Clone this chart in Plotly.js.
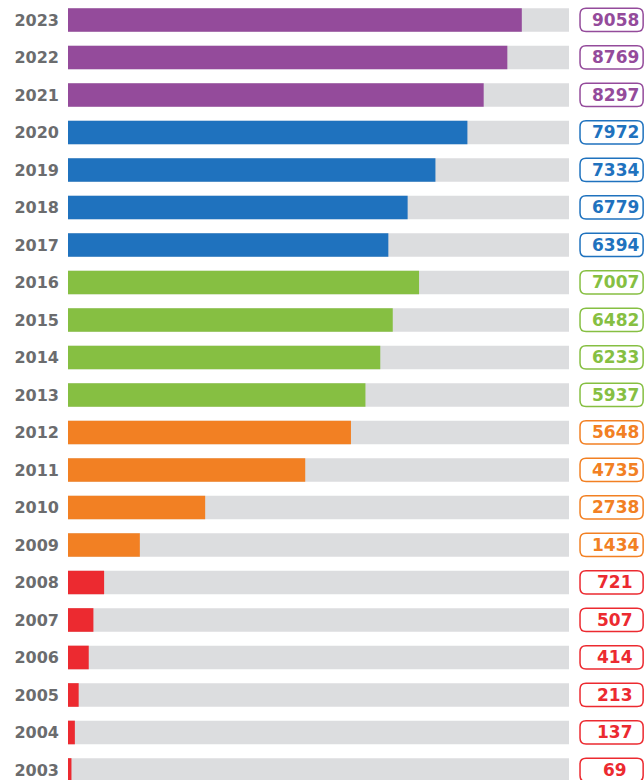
<!DOCTYPE html>
<html>
<head>
<meta charset="utf-8">
<script src="https://cdn.plot.ly/plotly-3.0.1.min.js"></script>
<style>html,body{margin:0;padding:0;background:#fff;}#chart{width:644px;height:780px;}</style>
</head>
<body>
<div id="chart"></div>
<script>
// Data
const years  = [2003, 2004, 2005, 2006, 2007, 2008, 2009, 2010, 2011, 2012, 2013, 2014, 2015, 2016, 2017, 2018, 2019, 2020, 2021, 2022, 2023];
const values = [69, 137, 213, 414, 507, 721, 1434, 2738, 4735, 5648, 5937, 6233, 6482, 7007, 6394, 6779, 7334, 7972, 8297, 8769, 9058];
// Period groups (first year of each colour band)
const groupStarts = [2003, 2009, 2013, 2017, 2021];

// Styles
const groupColors = ['#ec2a30', '#f28023', '#86bf42', '#1f72be', '#944b9b'];
const trackColor = '#dcdddf';
const labelColor = '#6b6c6e';
const xMax = 10000;

function colorFor(y) {
  let idx = 0;
  groupStarts.forEach((s, i) => { if (y >= s) idx = i; });
  return groupColors[idx];
}
const barColors = years.map(colorFor);

const barWidth = 0.63;
const traces = [
  {type: 'bar', orientation: 'h', y: years, x: years.map(() => xMax), width: barWidth,
   marker: {color: trackColor}, hoverinfo: 'skip', showlegend: false},
  {type: 'bar', orientation: 'h', y: years, x: values, width: barWidth,
   marker: {color: barColors}, showlegend: false}
];

// value boxes (rounded rectangles) to the right of the plot
const bx0 = 1.022, bx1 = 1.148, halfH = 0.31, rx = 0.012, ry = 0.16;
const shapes = years.map((y, i) => {
  const y0 = y - halfH, y1 = y + halfH;
  const p = `M ${bx0 + rx},${y1} L ${bx1 - rx},${y1} Q ${bx1},${y1} ${bx1},${y1 - ry} ` +
            `L ${bx1},${y0 + ry} Q ${bx1},${y0} ${bx1 - rx},${y0} L ${bx0 + rx},${y0} ` +
            `Q ${bx0},${y0} ${bx0},${y0 + ry} L ${bx0},${y1 - ry} Q ${bx0},${y1} ${bx0 + rx},${y1} Z`;
  return {type: 'path', xref: 'paper', yref: 'y', path: p,
          line: {color: barColors[i], width: 1.5}, fillcolor: '#ffffff', layer: 'above'};
});
const annotations = years.map((y, i) => ({
  xref: 'paper', yref: 'y', x: 1.092, y: y, text: String(values[i]),
  showarrow: false, xanchor: 'center', yanchor: 'middle',
  font: {family: 'DejaVu Sans', size: 17, color: barColors[i], weight: 'bold'}
}));

const layout = {
  width: 644, height: 780,
  margin: {l: 68, r: 75, t: 0, b: 0, pad: 0},
  paper_bgcolor: '#ffffff', plot_bgcolor: '#ffffff',
  barmode: 'overlay',
  xaxis: {range: [0, xMax], visible: false, fixedrange: true},
  yaxis: {range: [2002.733, 2023.533], tickvals: years, ticktext: years.map(String),
          showgrid: false, zeroline: false, showline: false, ticks: '',
          ticklabelstandoff: 8,
          tickfont: {family: 'DejaVu Sans', size: 16, color: labelColor, weight: 'bold'},
          fixedrange: true},
  shapes: shapes,
  annotations: annotations,
  showlegend: false
};

Plotly.newPlot('chart', traces, layout, {displayModeBar: false, staticPlot: true});
</script>
</body>
</html>
